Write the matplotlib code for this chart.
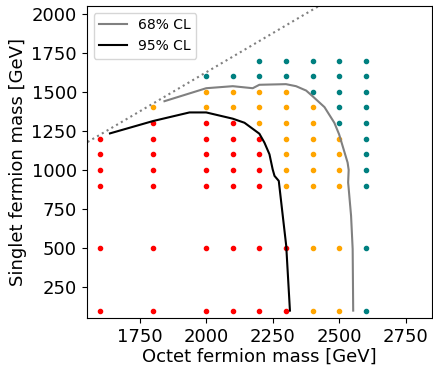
import matplotlib
matplotlib.use('Agg')
import matplotlib.pyplot as plt
import numpy as np

# scan grid: octet mass (x) and singlet mass (y), in GeV
octet_masses = [1600, 1800, 2000, 2100, 2200, 2300, 2400, 2500, 2600]
singlet_masses = [1700, 1600, 1500, 1400, 1300, 1200, 1100, 1000, 900, 500, 100]

# point status per row: r = excluded, o = between, t = allowed, - = not computed
status_rows = [
    '----ttttt',
    '--ttttttt',
    '--oooottt',
    '-oooooott',
    '-rrrooott',
    'rrrrrooot',
    'rrrrrooot',
    'rrrrrooot',
    'rrrrrooot',
    'rrrrrroot',
    'rrrrrroot',
]

# 68% CL contour
cl68_x = [1843, 2000, 2100, 2175, 2200, 2300, 2338, 2376, 2400, 2445, 2482,
          2500, 2517, 2532, 2536, 2534, 2545, 2551, 2553]
cl68_y = [1440, 1523, 1536, 1523, 1545, 1549, 1536, 1508, 1472, 1402, 1302,
          1228, 1132, 1047, 1000, 920, 707, 494, 100]

# 95% CL contour
cl95_x = [1638, 1800, 1937, 2000, 2100, 2144, 2200, 2219, 2238, 2250, 2257,
          2273, 2288, 2301, 2315]
cl95_y = [1234, 1313, 1368, 1368, 1328, 1302, 1232, 1175, 1100, 1004, 962,
          930, 707, 515, 100]

colors = {'r': 'red', 'o': 'orange', 't': 'teal'}


def main():
    fig = plt.figure(figsize=(4.33, 3.66), dpi=100)
    ax = fig.add_axes([0.200, 0.130, 0.798, 0.854])

    # scatter the scan points
    for ym, row in zip(singlet_masses, status_rows):
        for xm, s in zip(octet_masses, row):
            if s in colors:
                ax.scatter(xm, ym, s=9, color=colors[s], zorder=2)

    ax.plot(cl68_x, cl68_y, color='gray', lw=1.5, label='68% CL', zorder=3)
    ax.plot(cl95_x, cl95_y, color='black', lw=1.5, label='95% CL', zorder=3)

    # kinematic boundary
    xx = np.array([1500, 2900])
    ax.plot(xx, xx - 375, ls=':', color='gray', lw=1.5)

    ax.set_xlim(1550, 2850)
    ax.set_ylim(50, 2050)
    ax.set_xlabel('Octet fermion mass [GeV]', fontsize=13, labelpad=1)
    ax.set_ylabel('Singlet fermion mass [GeV]', fontsize=13, labelpad=3)
    ax.tick_params(labelsize=13)
    ax.legend(loc='upper left', fontsize=10)

    fig.savefig('out.png', dpi=100)


if __name__ == '__main__':
    main()
